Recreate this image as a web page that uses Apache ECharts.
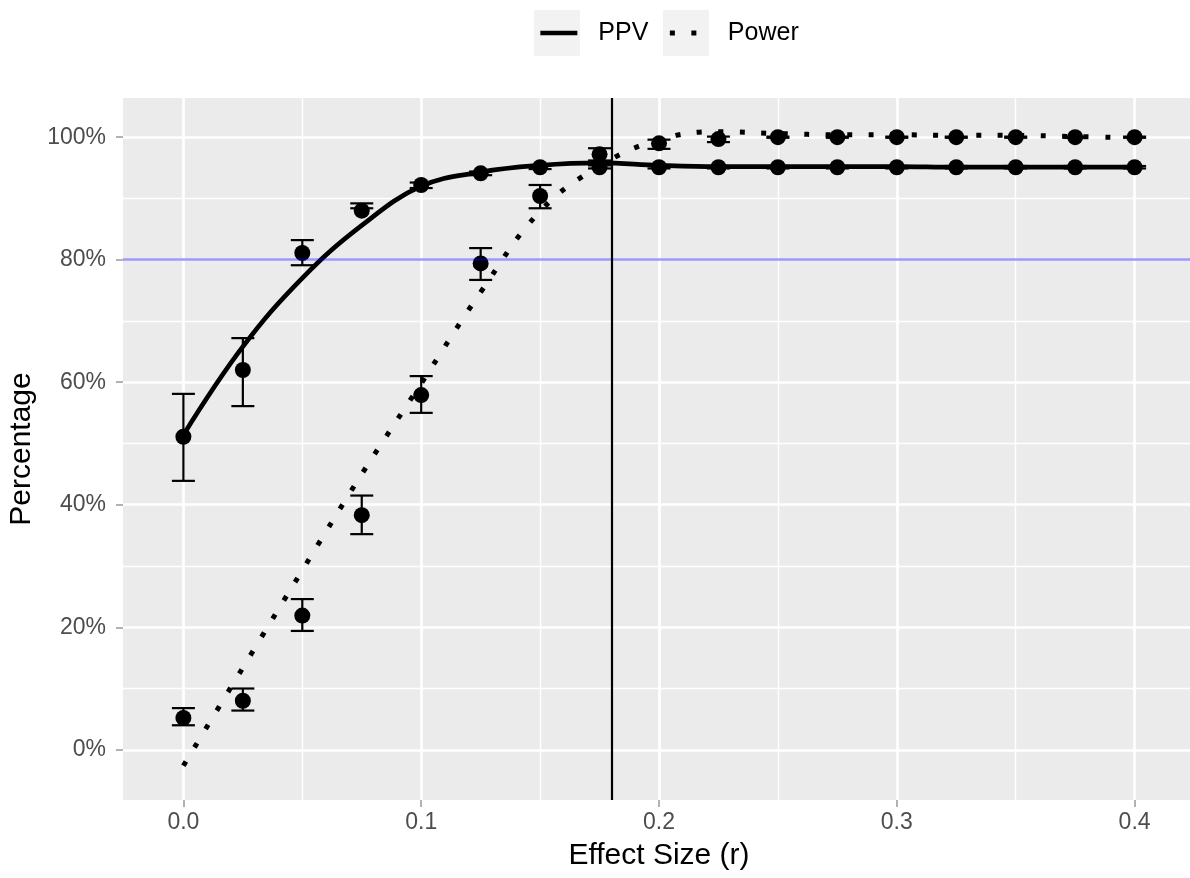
<!DOCTYPE html>
<html>
<head>
<meta charset="utf-8">
<script src="https://cdn.jsdelivr.net/npm/echarts@6/dist/echarts.min.js"></script>
<style>
  html, body { margin: 0; padding: 0; background: #fff; }
  #chart { width: 1190px; height: 878px; }
</style>
</head>
<body>
<div id="chart"></div>
<script>
// effect sizes where the simulations were run
const effectSizes = [0, 0.025, 0.05, 0.075, 0.1, 0.125, 0.15, 0.175, 0.2, 0.225, 0.25, 0.275, 0.3, 0.325, 0.35, 0.375, 0.4]

// PPV: mean and error bar ends (%)
const ppvMean = [51.1, 62.0, 81.1, 88.0, 92.2, 94.1, 95.1, 95.1, 95.1, 95.1, 95.1, 95.1, 95.1, 95.1, 95.1, 95.1, 95.1]
const ppvLow = [43.9, 56.1, 79.1, 88.4, 91.7, 93.8, 94.8, 94.9, 94.9, 94.9, 94.9, 94.9, 94.9, 94.9, 94.9, 94.9, 94.9]
const ppvHigh = [58.1, 67.2, 83.2, 89.2, 92.6, 94.4, 95.4, 95.4, 95.3, 95.3, 95.3, 95.3, 95.3, 95.3, 95.3, 95.3, 95.3]

// Power: mean and error bar ends (%)
const powerMean = [5.2, 8.0, 21.9, 38.3, 57.9, 79.4, 90.4, 97.2, 99.0, 99.7, 100, 100, 100, 100, 100, 100, 100]
const powerLow = [4.0, 6.4, 19.4, 35.2, 55.0, 76.7, 88.4, 96.2, 98.1, 99.2, 99.9, 99.9, 99.9, 99.9, 99.9, 99.9, 99.9]
const powerHigh = [6.8, 10.0, 24.6, 41.5, 61.0, 81.9, 92.2, 98.2, 99.6, 100.1, 100.1, 100.1, 100.1, 100.1, 100.1, 100.1, 100.1]

// smoothed curves
const fitX = [0, 0.025, 0.05, 0.075, 0.1, 0.125, 0.15, 0.175, 0.2, 0.225, 0.25, 0.275, 0.3, 0.325, 0.35, 0.375, 0.4]
const ppvFit = [51.4, 65.8, 77.0, 85.6, 92.0, 94.3, 95.4, 95.8, 95.4, 95.2, 95.2, 95.2, 95.2, 95.1, 95.1, 95.1, 95.1]
const powerFit = [-2.6, 13.4, 29.3, 45.0, 59.8, 74.7, 87.9, 95.3, 99.6, 100.9, 100.6, 100.4, 100.4, 100.3, 100.3, 100.1, 99.9]

// reference lines
const cutoffEffect = 0.18
const targetPercent = 80

// tick labels
const xTicks = [0, 0.1, 0.2, 0.3, 0.4]
const yTicks = [0, 20, 40, 60, 80, 100]

const font = '"Liberation Sans", Arial, Helvetica, sans-serif'

const zip = (xs, ys) => xs.map((x, i) => [x, ys[i]])
const bars = (lo, hi) => effectSizes.map((x, i) => [x, lo[i], hi[i]])

function renderErrorBar(params, api) {
  const x = api.value(0)
  const top = api.coord([x, api.value(2)])
  const bottom = api.coord([x, api.value(1)])
  const half = 11.5
  const style = { stroke: '#000', lineWidth: 2.2 }
  return {
    type: 'group',
    children: [
      { type: 'line', shape: { x1: top[0], y1: top[1], x2: bottom[0], y2: bottom[1] }, style },
      { type: 'line', shape: { x1: top[0] - half, y1: top[1], x2: top[0] + half, y2: top[1] }, style },
      { type: 'line', shape: { x1: bottom[0] - half, y1: bottom[1], x2: bottom[0] + half, y2: bottom[1] }, style }
    ]
  }
}

const ppvLine = { color: '#000', width: 4.7, type: 'solid' }
const powerLine = { color: '#000', width: 5, type: [5, 16.5], cap: 'butt' }
const hiddenAxisLine = { show: true, onZero: false, lineStyle: { color: 'rgba(0,0,0,0)' } }
const tickStyle = { color: '#999', width: 1.5 }

const chart = echarts.init(document.getElementById('chart'))

const option = {
  animation: false,
  textStyle: { fontFamily: font },
  graphic: [
    { type: 'rect', shape: { x: 534, y: 10, width: 46, height: 46 }, style: { fill: '#f2f2f2' }, z: 0 },
    { type: 'rect', shape: { x: 663, y: 10, width: 46, height: 46 }, style: { fill: '#f2f2f2' }, z: 0 }
  ],
  legend: {
    data: [
      { name: 'PPV', lineStyle: ppvLine },
      { name: 'Power', lineStyle: powerLine }
    ],
    left: 538,
    top: 18,
    padding: 0,
    itemWidth: 37,
    itemHeight: 14,
    itemGap: 19,
    itemStyle: { opacity: 0 },
    textStyle: { fontSize: 25, color: '#000', fontFamily: font, padding: [0, 0, 0, 16], lineHeight: 30 }
  },
  grid: {
    left: 123,
    top: 98,
    width: 1072,
    height: 702,
    outerBoundsMode: 'none',
    containLabel: false,
    show: true,
    backgroundColor: '#ebebeb',
    borderWidth: 0
  },
  xAxis: {
    type: 'value',
    min: -0.0254,
    max: 0.4254,
    minInterval: 0.1,
    maxInterval: 0.1,
    name: 'Effect Size (r)',
    nameLocation: 'middle',
    nameGap: 41,
    nameTextStyle: { fontSize: 30, color: '#000', fontFamily: font },
    axisLine: hiddenAxisLine,
    axisTick: { show: true, length: 7, customValues: xTicks, lineStyle: tickStyle },
    axisLabel: {
      customValues: xTicks,
      margin: 11,
      fontSize: 23,
      color: '#4d4d4d',
      formatter: v => v.toFixed(1)
    },
    splitLine: { show: true, lineStyle: { color: '#fff', width: 2.7 } },
    minorTick: { show: false, splitNumber: 2 },
    minorSplitLine: { show: true, lineStyle: { color: '#fff', width: 1.4 } }
  },
  yAxis: {
    type: 'value',
    min: -8.2,
    max: 106.4,
    minInterval: 20,
    maxInterval: 20,
    name: 'Percentage',
    nameLocation: 'middle',
    nameGap: 85,
    nameTextStyle: { fontSize: 30, color: '#000', fontFamily: font },
    axisLine: hiddenAxisLine,
    axisTick: { show: true, length: 7, customValues: yTicks, lineStyle: tickStyle },
    axisLabel: {
      customValues: yTicks,
      margin: 17,
      fontSize: 23,
      color: '#4d4d4d',
      formatter: '{value}%'
    },
    splitLine: { show: true, lineStyle: { color: '#fff', width: 2.7 } },
    minorTick: { show: false, splitNumber: 2 },
    minorSplitLine: { show: true, lineStyle: { color: '#fff', width: 1.4 } }
  },
  series: [
    {
      name: 'PPV',
      type: 'line',
      data: zip(fitX, ppvFit),
      smooth: 0.4,
      symbol: 'none',
      z: 4,
      lineStyle: ppvLine,
      itemStyle: { color: '#000' },
      markLine: {
        silent: true,
        symbol: 'none',
        label: { show: false },
        data: [
          { yAxis: targetPercent, lineStyle: { color: 'rgba(0,0,255,0.4)', width: 2.5, type: 'solid' } },
          { xAxis: cutoffEffect, lineStyle: { color: '#000', width: 2.2, type: 'solid' } }
        ]
      }
    },
    {
      name: 'Power',
      type: 'line',
      data: zip(fitX, powerFit),
      smooth: 0.4,
      symbol: 'none',
      z: 4,
      lineStyle: powerLine,
      itemStyle: { color: '#000' }
    },
    {
      name: 'PPV bars',
      type: 'custom',
      renderItem: renderErrorBar,
      encode: { x: 0, y: [1, 2] },
      data: bars(ppvLow, ppvHigh),
      z: 2
    },
    {
      name: 'Power bars',
      type: 'custom',
      renderItem: renderErrorBar,
      encode: { x: 0, y: [1, 2] },
      data: bars(powerLow, powerHigh),
      z: 2
    },
    {
      name: 'PPV points',
      type: 'scatter',
      data: zip(effectSizes, ppvMean),
      symbolSize: 16,
      itemStyle: { color: '#000', opacity: 1 },
      z: 3
    },
    {
      name: 'Power points',
      type: 'scatter',
      data: zip(effectSizes, powerMean),
      symbolSize: 16,
      itemStyle: { color: '#000', opacity: 1 },
      z: 3
    }
  ]
}

chart.setOption(option)
</script>
</body>
</html>
